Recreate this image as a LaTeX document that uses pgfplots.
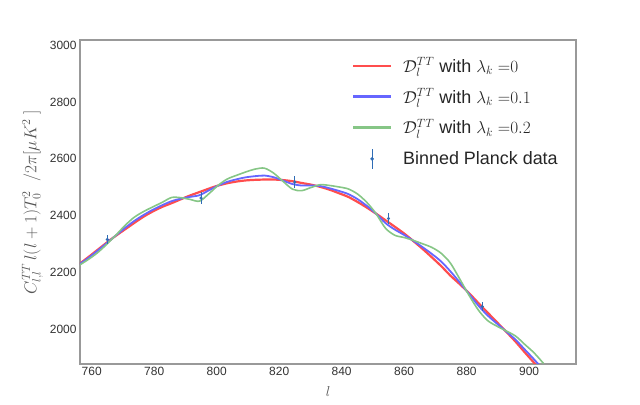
\documentclass[border=0pt]{standalone}
\usepackage{fontspec}
\setmainfont{Liberation Sans}
\usepackage{pgfplots}
\usepackage{pgfplotstable}
\pgfplotsset{compat=1.18}

\definecolor{redline}{HTML}{FF4D4D}
\definecolor{blueline}{HTML}{6666FF}
\definecolor{greenline}{HTML}{86C686}
\definecolor{ebar}{HTML}{2F6CB5}
\definecolor{axisgray}{HTML}{999999}
\definecolor{tickgray}{HTML}{333333}
\definecolor{labelgray}{HTML}{555555}

% model curves
\pgfplotstableread{
l     red   blue  green
755.8 2228  2227  2224
758.8 2253  2250  2245
761.8 2279  2276  2269
764.8 2305  2303  2299
767.7 2329  2330  2331
770.7 2352  2357  2366
773.7 2375  2382  2395
776.7 2397  2403  2415
779.6 2415  2421  2431
782.6 2431  2437  2447
785.6 2444  2451  2464
788.6 2458  2460  2463
791.5 2471  2466  2457
794.5 2483  2472  2451
797.5 2495  2489  2477
800.5 2506  2506  2507
803.4 2514  2519  2529
806.4 2520  2528  2542
809.4 2524  2535  2554
812.4 2526  2539  2564
815.3 2527  2541  2567
818.3 2527  2535  2549
821.3 2525  2523  2520
824.3 2521  2511  2493
827.2 2515  2506  2488
830.2 2509  2506  2499
833.2 2501  2504  2509
836.2 2491  2496  2506
839.1 2479  2487  2501
842.1 2466  2476  2494
845.1 2448  2458  2476
848.1 2428  2434  2446
851.0 2407  2407  2407
854.0 2384  2374  2356
857.0 2361  2351  2331
860.0 2337  2332  2323
862.9 2311  2312  2313
865.9 2283  2289  2301
868.9 2253  2265  2288
871.9 2222  2238  2267
874.8 2189  2204  2233
877.8 2159  2165  2177
880.8 2127  2124  2119
883.8 2092  2083  2067
886.7 2059  2049  2031
889.7 2025  2020  2011
892.7 1991  1992  1994
895.7 1956  1963  1976
898.6 1919  1929  1947
901.6 1882  1894  1917
904.6 1845  1857  1880
}\curves

% binned data
\pgfplotstableread{
l   D     err
765 2316  15
795 2462  20
825 2518  20
855 2390  18
885 2080  16
}\binned

\begin{document}
\begin{tikzpicture}
\path[use as bounding box] (0,0) rectangle (640bp,405bp);
\begin{axis}[
    at={(80bp,41bp)}, anchor=south west,
    scale only axis, width=496bp, height=324bp,
    xmin=756.25, xmax=915, ymin=1878, ymax=3018,
    xtick={760,780,...,900}, ytick={2000,2200,...,3000},
    major tick length=0pt,
    axis line style={draw=axisgray, line width=1.2bp},
    tick label style={font=\fontsize{12}{14}\selectfont, text=tickgray},
    /pgf/number format/assume math mode=true,
    /pgf/number format/set thousands separator={},
    xlabel={$l$},
    ylabel={$C_{l,l}^{TT}\,l(l+1)T_0^2\;\;/2\pi[\mu K^2\;]$},
    ylabel style={font=\fontsize{17}{20}\selectfont, text=labelgray},
    xlabel style={font=\fontsize{14}{17}\selectfont, text=labelgray, yshift=-4bp},
    legend cell align=left,
    legend style={draw=none, fill=none, at={(0.548,0.952)}, anchor=north west,
        inner sep=0pt, row sep=11bp, /tikz/column sep=9bp,
        font=\fontsize{18}{22}\selectfont, text=black!85},
]
\addplot[redline, line width=2.2bp, smooth,
    legend image code/.code={\draw[redline, line width=2.2bp] (0bp,0bp) -- (38bp,0bp);}]
    table[x=l, y=red] {\curves};
\addlegendentry{$\mathcal{D}_l^{TT}$ with $\lambda_k\;{=}0$}
\addplot[blueline, line width=1.8bp, smooth,
    legend image code/.code={\draw[blueline, line width=2.2bp] (0bp,0bp) -- (38bp,0bp);}]
    table[x=l, y=blue] {\curves};
\addlegendentry{$\mathcal{D}_l^{TT}$ with $\lambda_k\;{=}0.1$}
\addplot[greenline, line width=1.6bp, smooth,
    legend image code/.code={\draw[greenline, line width=2.2bp] (0bp,0bp) -- (38bp,0bp);}]
    table[x=l, y=green] {\curves};
\addlegendentry{$\mathcal{D}_l^{TT}$ with $\lambda_k\;{=}0.2$}
\addplot[ebar, only marks, mark=*, mark size=1.4bp,
    error bars/.cd, y dir=both, y explicit,
    error bar style={line width=0.9bp, ebar}, error mark=none,
    /pgfplots/legend image code/.code={
        \path[draw=none, fill=none] (0bp,-10bp) rectangle (38bp,10bp);
        \draw[ebar, line width=0.9bp] (19bp,-10bp) -- (19bp,10bp);
        \fill[ebar] (19bp,0bp) circle (1.6bp);}]
    table[x=l, y=D, y error=err] {\binned};
\addlegendentry{Binned Planck data}
\end{axis}
\end{tikzpicture}
\end{document}
